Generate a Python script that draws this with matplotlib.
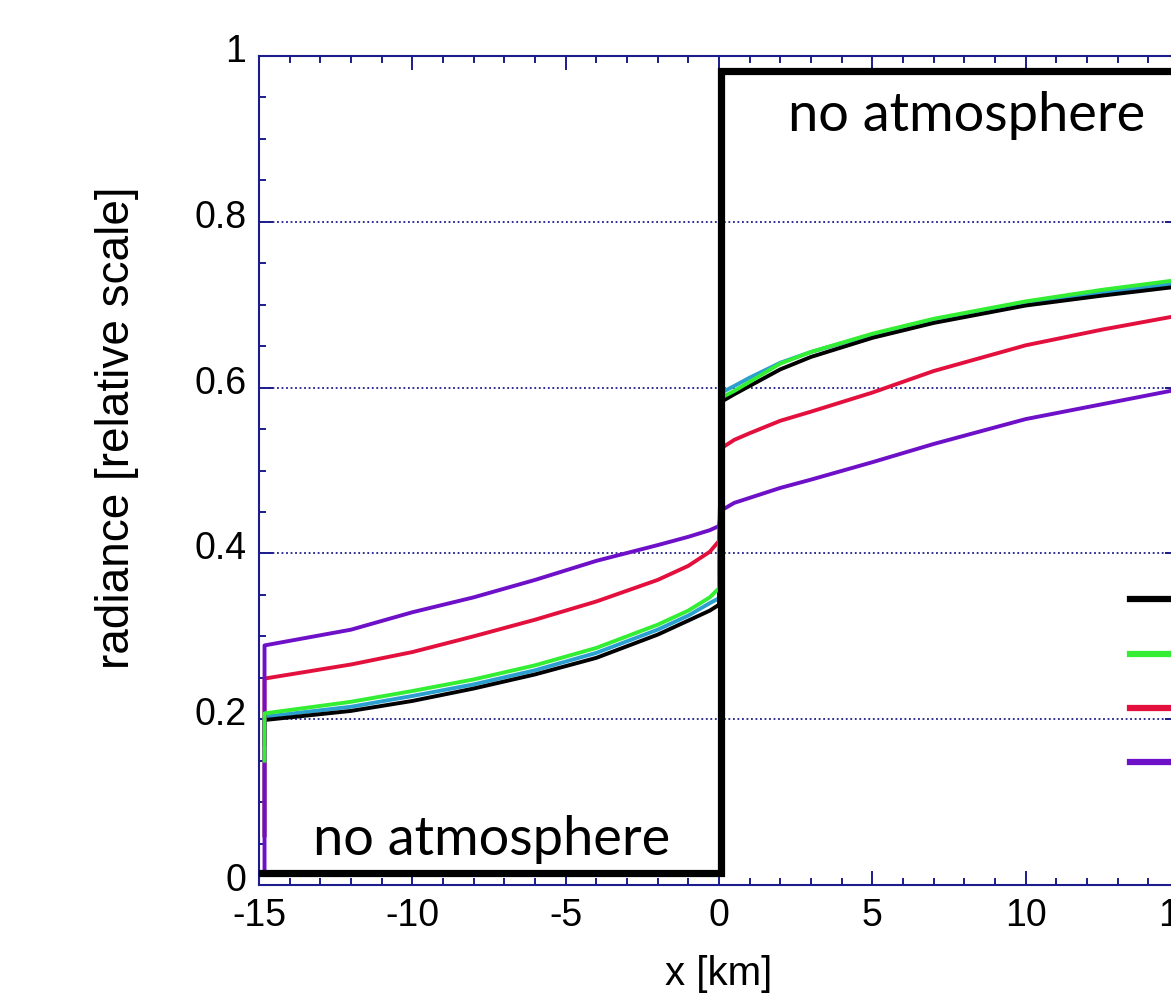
import numpy as np
import matplotlib
matplotlib.use('Agg')
import matplotlib.pyplot as plt
import matplotlib.transforms as mtransforms
from matplotlib.ticker import MultipleLocator, FormatStrFormatter

plt.rcParams['font.family'] = ['Liberation Sans', 'DejaVu Sans']
plt.rcParams['axes.unicode_minus'] = False

# radiance profiles across the atmosphere edge at x = 0
x_km = [-14.82, -14.82, -12, -10, -8, -6, -4, -2, -1, -0.3, 0.0,
        0.08, 0.5, 1.0, 2.0, 3, 5, 7, 10, 12.5, 15]
rad_black = [0.17, 0.199, 0.210, 0.222, 0.237, 0.254, 0.274, 0.302, 0.319, 0.331, 0.338,
             0.583, 0.592, 0.602, 0.622, 0.637, 0.660, 0.678, 0.699, 0.711, 0.722]
rad_blue = [0.06, 0.203, 0.215, 0.228, 0.242, 0.259, 0.280, 0.308, 0.325, 0.340, 0.346,
            0.594, 0.602, 0.612, 0.630, 0.643, 0.664, 0.681, 0.701, 0.715, 0.726]
rad_green = [0.15, 0.207, 0.221, 0.234, 0.248, 0.265, 0.286, 0.314, 0.331, 0.347, 0.358,
             0.588, 0.596, 0.607, 0.629, 0.643, 0.665, 0.683, 0.704, 0.718, 0.730]
rad_red = [0.06, 0.249, 0.266, 0.281, 0.300, 0.320, 0.342, 0.368, 0.385, 0.402, 0.415,
           0.527, 0.537, 0.545, 0.560, 0.571, 0.594, 0.620, 0.651, 0.670, 0.687]
rad_purple = [0.02, 0.289, 0.308, 0.329, 0.347, 0.368, 0.391, 0.410, 0.420, 0.428, 0.433,
              0.452, 0.461, 0.467, 0.479, 0.489, 0.510, 0.532, 0.562, 0.580, 0.598]

x_ticks = [-15, -10, -5, 0, 5, 10, 15]
y_ticks = [0, 0.2, 0.4, 0.6, 0.8, 1]

NAVY = '#1c1c8c'

fig = plt.figure(figsize=(11.71, 9.98), dpi=100)
# axes runs slightly past the right edge, as in the cropped original
ax = fig.add_axes([259 / 1171, 113 / 998, 920 / 1171, 829 / 998])

ax.plot(x_km, rad_blue, color='#2a9fd0', lw=2.8, zorder=3)
l_black, = ax.plot(x_km, rad_black, color='black', lw=2.8, zorder=3)
l_green, = ax.plot(x_km, rad_green, color='#33ee33', lw=2.8, zorder=4)
l_red, = ax.plot(x_km, rad_red, color='#e3103e', lw=2.8, zorder=3)
l_purple, = ax.plot(x_km, rad_purple, color='#6e10c8', lw=2.8, zorder=3)

ax.set_xlim(-15, 15)
ax.set_ylim(0, 1)
ax.set_xticks(x_ticks)
ax.set_yticks(y_ticks)
ax.xaxis.set_minor_locator(MultipleLocator(1))
ax.yaxis.set_minor_locator(MultipleLocator(0.05))
ax.yaxis.set_major_formatter(FormatStrFormatter('%g'))

ax.tick_params(which='both', direction='in', top=True, right=True, color=NAVY,
               width=1.4, labelsize=27, labelcolor='black')
ax.tick_params(which='major', length=10)
ax.tick_params(which='minor', length=5)
ax.tick_params(axis='x', pad=9)
ax.tick_params(axis='y', pad=9)
for sp in ax.spines.values():
    sp.set_color(NAVY)
    sp.set_linewidth(1.5)

offset = mtransforms.ScaledTranslation(0, 8 / 100, fig.dpi_scale_trans)
for lab in ax.get_yticklabels():
    lab.set_transform(lab.get_transform() + offset)

ax.yaxis.grid(True, color=NAVY, linestyle=(0, (1, 1.5)), linewidth=1.3)
ax.set_axisbelow(True)

ax.set_xlabel('x [km]', fontsize=29)
ax.xaxis.set_label_coords(0.5, -0.084)
ax.set_ylabel('radiance [relative scale]', fontsize=33)
ax.yaxis.set_label_coords(-0.13, 0.551)

# black outline of the two "no atmosphere" regions
ax.plot([-14.9, 0.05, 0.05, 15], [0.0145, 0.0145, 0.982, 0.982], color='black',
        lw=5.2, solid_joinstyle='miter', clip_on=False, zorder=5)
ax.text(-7.43, 0.036, 'no atmosphere', family='Lato', fontsize=39, ha='center',
        va='baseline', zorder=6)
ax.text(8.09, 0.91, 'no atmosphere', family='Lato', fontsize=39, ha='center',
        va='baseline', zorder=6)

handles = []
for ln in (l_black, l_green, l_red, l_purple):
    h = matplotlib.lines.Line2D([], [], color=ln.get_color(), lw=4.5)
    handles.append(h)
leg = ax.legend(handles, [' ', ' ', ' ', ' '], loc='upper left',
                bbox_to_anchor=(0.947, 0.357), frameon=False, fontsize=20,
                handlelength=3, borderpad=0, borderaxespad=0, labelspacing=1.02)

fig.savefig('out.png', dpi=100, facecolor='white')
